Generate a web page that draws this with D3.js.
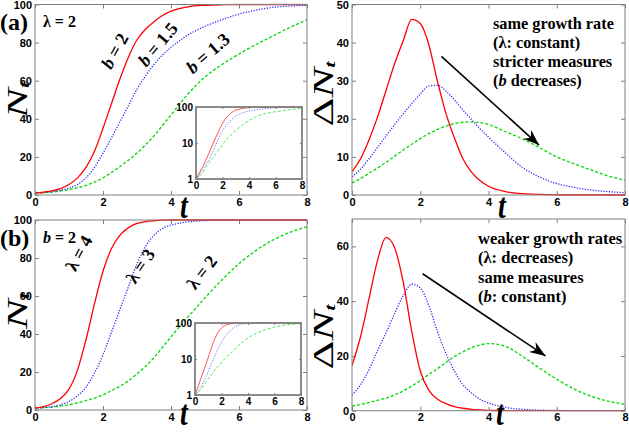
<!DOCTYPE html>
<html>
<head>
<meta charset="utf-8">
<script src="https://cdn.jsdelivr.net/npm/d3@7"></script>
<style>
  body { margin: 0; background: #fff; }
  svg { display: block; }
</style>
</head>
<body>
<div id="chart"></div>
<script>

// sample times (finer where the curves bend)
var tGrid = [0, 0.25, 0.5, 0.75, 1, 1.25, 1.5, 1.75, 2, 2.25, 2.5, 2.75, 3, 3.25, 3.5, 3.75, 4, 4.5, 5, 5.5, 6, 6.5, 7, 7.5, 8];
var xTicks = [0, 2, 4, 6, 8];

// (a) lambda = 2, N_t for b = 2, 1.5, 1.3
var nA_b2  = [1, 1.5, 2.2, 3.4, 5.5, 9, 14.5, 23, 35, 48, 61, 72.5, 81.5, 87, 91, 94.2, 96.5, 98.8, 99.6, 99.9, 100, 100, 100, 100, 100];
var nA_b15 = [1, 1.3, 1.8, 2.5, 3.6, 5.5, 9, 14.5, 22, 30, 38.5, 47, 55.5, 62.5, 68.5, 73.5, 77.5, 84, 88.5, 92, 95, 97, 98.5, 99.2, 99.6];
var nA_b13 = [1, 1.2, 1.5, 2.1, 2.8, 3.8, 5, 6.8, 9, 11.8, 15, 18.3, 22, 26.3, 31, 36.5, 42, 53, 62, 68.5, 74, 79, 83.5, 88, 92];

// (a) delta N_t
var dA_b2  = [6.1, 9.5, 14.5, 20.5, 27.5, 34.5, 40.5, 46.1, 45, 39.5, 30, 21.5, 15, 9.5, 6, 3.8, 2.3, 0.9, 0.35, 0.15, 0.05, 0, 0, 0, 0];
var dA_b15 = [4.8, 6.8, 9.5, 12.5, 15.5, 18.5, 21.3, 24, 26.5, 28.6, 28.8, 27.3, 25, 22.3, 19.8, 17.4, 15.2, 11, 7.2, 4.7, 3, 2, 1.3, 0.9, 0.6];
var dA_b13 = [3.2, 4.3, 5.7, 7.1, 8.6, 10.2, 11.8, 13.3, 14.8, 16.1, 17.2, 18.1, 18.7, 19.1, 19.2, 19.0, 18.5, 16.6, 14.7, 12.4, 10, 8.2, 6.6, 5, 3.9];

// (b) b = 2, N_t for lambda = 4, 3, 2
var nB_l4 = [1, 1.8, 3.3, 6, 11, 21, 37, 56, 73, 85, 92, 96, 98.2, 99.2, 99.6, 99.9, 100, 100, 100, 100, 100, 100, 100, 100, 100];
var nB_l3 = [1, 1.3, 1.8, 2.8, 4.5, 7.5, 12, 19.5, 29, 41, 53, 65, 77, 86, 92, 95.5, 97.3, 99, 99.7, 99.9, 100, 100, 100, 100, 100];
var nB_l2 = [1, 1.2, 1.5, 2.1, 2.8, 3.7, 5, 6.3, 8, 10.2, 12.5, 15.5, 19, 23, 27.5, 33, 38.5, 49, 59, 68.5, 77, 84, 89.5, 93.5, 96.5];

// (b) delta N_t
var dB_l4 = [16.5, 27, 41, 55, 63.3, 59.5, 47, 29, 14.5, 7.5, 4.3, 2.6, 1.5, 0.9, 0.5, 0.3, 0.15, 0.05, 0, 0, 0, 0, 0, 0, 0];
var dB_l3 = [5.7, 9.5, 15, 22, 28.5, 35.5, 42, 46.2, 44.8, 38.5, 29, 21, 14.5, 9.5, 6.5, 4.2, 2.8, 1.2, 0.5, 0.2, 0.1, 0, 0, 0, 0];
var dB_l2 = [1.7, 2.3, 3, 3.8, 4.6, 5.8, 7.2, 9, 11, 13.2, 15.3, 17.6, 19.8, 21.5, 23, 24, 24.5, 23.5, 19.8, 15.5, 11.5, 8, 5.3, 3.5, 2.3];

var W = 629, H = 433;
var svg = d3.select("#chart").append("svg")
    .attr("width", W)
    .attr("height", H);

var serif = "'Liberation Serif', 'Times New Roman', serif";
var sans = "'Liberation Sans', Arial, sans-serif";

var styles = {
  red:   { stroke: "#ff0000", dash: null,      w: 1.3 },
  blue:  { stroke: "#2a2aff", dash: "1.2,1.5", w: 1.3 },
  green: { stroke: "#00d800", dash: "3,2",     w: 1.3 }
};

var clipId = 0;

// draws a boxed axes (MATLAB style, ticks inside on all four sides) and its curves
function panel(box, y, yTicks, lines, opt) {
  opt = opt || {};
  var x = d3.scaleLinear().domain([0, 8]).range([box.l, box.r]);
  y.range([box.b, box.t]);
  var tick = opt.tick || 4;
  var fs = opt.fs || 11;
  var g = svg.append("g");

  g.append("rect")
      .attr("x", box.l).attr("y", box.t)
      .attr("width", box.r - box.l).attr("height", box.b - box.t)
      .attr("fill", "#fff");

  var axB = g.append("g").attr("transform", "translate(0," + box.b + ")")
      .call(d3.axisBottom(x).tickValues(xTicks).tickSize(-tick).tickSizeOuter(0).tickPadding(3));
  var axT = g.append("g").attr("transform", "translate(0," + box.t + ")")
      .call(d3.axisTop(x).tickValues(xTicks).tickSize(-tick).tickSizeOuter(0).tickFormat(""));
  var axL = g.append("g").attr("transform", "translate(" + box.l + ",0)")
      .call(d3.axisLeft(y).tickValues(yTicks).tickSize(-tick).tickSizeOuter(0).tickPadding(3)
        .tickFormat(opt.yFormat || d3.format("d")));
  var axR = g.append("g").attr("transform", "translate(" + box.r + ",0)")
      .call(d3.axisRight(y).tickValues(yTicks).tickSize(-tick).tickSizeOuter(0).tickFormat(""));

  [axB, axT, axL, axR].forEach(function(a) {
    a.select(".domain").remove();
    a.selectAll(".tick line").attr("stroke", "#808080");
    a.selectAll("text")
      .style("font-family", sans)
      .style("font-weight", "bold")
      .style("font-size", fs + "px")
      .attr("fill", "#000");
  });

  var id = "clip" + (clipId++);
  g.append("clipPath").attr("id", id).append("rect")
      .attr("x", box.l).attr("y", box.t - 1)
      .attr("width", box.r - box.l).attr("height", box.b - box.t + 2);

  var line = d3.line()
      .x(function(d) { return x(d[0]); })
      .y(function(d) { return y(d[1]); })
      .curve(d3.curveMonotoneX);

  lines.forEach(function(s) {
    var st = styles[s.style];
    g.append("path")
        .datum(tGrid.map(function(t, i) { return [t, s.values[i]]; }))
        .attr("clip-path", "url(#" + id + ")")
        .attr("fill", "none")
        .attr("stroke", st.stroke)
        .attr("stroke-width", opt.lw || st.w)
        .attr("stroke-opacity", opt.op || 1)
        .attr("stroke-dasharray", st.dash)
        .attr("d", line);
  });

  g.append("rect")
      .attr("x", box.l).attr("y", box.t)
      .attr("width", box.r - box.l).attr("height", box.b - box.t)
      .attr("fill", "none")
      .attr("stroke", "#808080")
      .attr("stroke-width", opt.frame || 1);

  return { x: x, y: y, g: g };
}

// ---- panels ----
var pA = panel({ l: 35, r: 307, t: 4.5, b: 195 }, d3.scaleLinear().domain([0, 100]), [0, 20, 40, 60, 80, 100],
  [{ style: "green", values: nA_b13 }, { style: "blue", values: nA_b15 }, { style: "red", values: nA_b2 }]);

panel({ l: 196, r: 302, t: 107, b: 179 }, d3.scaleLog().domain([1, 100]), [1, 10, 100],
  [{ style: "green", values: nA_b13 }, { style: "blue", values: nA_b15 }, { style: "red", values: nA_b2 }],
  { tick: 2, fs: 10, lw: 0.9, op: 0.75, frame: 1.8 });

var pB = panel({ l: 352, r: 625, t: 4.5, b: 195 }, d3.scaleLinear().domain([0, 50]), [0, 10, 20, 30, 40, 50],
  [{ style: "green", values: dA_b13 }, { style: "blue", values: dA_b15 }, { style: "red", values: dA_b2 }]);

var pC = panel({ l: 35, r: 307, t: 220, b: 410 }, d3.scaleLinear().domain([0, 100]), [0, 20, 40, 60, 80, 100],
  [{ style: "green", values: nB_l2 }, { style: "blue", values: nB_l3 }, { style: "red", values: nB_l4 }]);

panel({ l: 195, r: 301, t: 323, b: 395 }, d3.scaleLog().domain([1, 100]), [1, 10, 100],
  [{ style: "green", values: nB_l2 }, { style: "blue", values: nB_l3 }, { style: "red", values: nB_l4 }],
  { tick: 2, fs: 10, lw: 0.9, op: 0.75, frame: 1.8 });

var pD = panel({ l: 352, r: 625, t: 219, b: 410.7 }, d3.scaleLinear().domain([0, 70]), [0, 20, 40, 60],
  [{ style: "green", values: dB_l2 }, { style: "blue", values: dB_l3 }, { style: "red", values: dB_l4 }]);

// ---- axis labels ----
function yLabel(cx, cy, delta) {
  var tx = svg.append("text")
      .attr("transform", "translate(" + cx + "," + cy + ") rotate(-90) scale(1.5,1)")
      .attr("text-anchor", "middle")
      .style("font-family", serif)
      .style("font-size", "30px");
  if (delta) tx.append("tspan").text("\u0394");
  tx.append("tspan").style("font-style", "italic").text("N");
  tx.append("tspan").style("font-style", "italic").style("font-weight", "bold")
    .style("font-size", "15px").attr("dy", "2").text("t");
}
yLabel(26.5, 100, false);
yLabel(333, 94, true);
yLabel(26.5, 311, false);
yLabel(333, 337, true);

function xLabel(cx, by) {
  svg.append("text")
      .attr("transform", "translate(" + cx + "," + by + ") scale(1,1.25)")
      .attr("text-anchor", "middle")
      .style("font-family", serif)
      .style("font-style", "italic")
      .style("font-weight", "bold")
      .style("font-size", "28px")
      .text("t");
}
xLabel(184, 218);
xLabel(502, 218);
xLabel(184, 425);
xLabel(500, 425);

// ---- annotations ----
function boldText(x0, y0, size, parts, rot) {
  var tx = svg.append("text")
      .attr("transform", "translate(" + x0 + "," + y0 + ")" + (rot ? " rotate(" + rot + ")" : ""))
      .attr("text-anchor", rot ? "middle" : "start")
      .style("font-family", serif)
      .style("font-weight", "bold")
      .style("font-size", size + "px");
  parts.forEach(function(p) {
    tx.append("tspan").style("font-style", p[1] ? "italic" : "normal").text(p[0]);
  });
  return tx;
}

boldText(0, 30, 24, [["(a)"]]);
boldText(0, 246, 24, [["(b)"]]);
boldText(43, 26.5, 16, [["\u03bb = 2"]]);
boldText(43, 243, 16, [["b", 1], [" = 2"]]);

// curve labels
boldText(pA.x(2.5), pA.y(74), 18, [["b", 1], [" = 2"]], -61);
boldText(pA.x(3.75), pA.y(77), 18, [["b", 1], [" = 1.5"]], -50);
boldText(pA.x(5.2), pA.y(72), 18, [["b", 1], [" = 1.3"]], -41);
boldText(pC.x(1.45), pC.y(81), 18, [["\u03bb = 4"]], -62);
boldText(pC.x(3.25), pC.y(74), 18, [["\u03bb = 3"]], -56);
boldText(pC.x(5.05), pC.y(70.5), 18, [["\u03bb = 2"]], -52);

// text blocks
[[["same growth rate"]], [["(\u03bb: constant)"]], [["stricter measures"]], [["("], ["b", 1], [" decreases)"]]]
  .forEach(function(p, i) { boldText(493, 29 + i * 19, 16.3, p); });
[[["weaker growth rates"]], [["(\u03bb: decreases)"]], [["same measures"]], [["("], ["b", 1], [": constant)"]]]
  .forEach(function(p, i) { boldText(478, 244 + i * 19.3, 16.5, p); });

// arrows
svg.append("defs").append("marker")
    .attr("id", "head")
    .attr("markerUnits", "userSpaceOnUse")
    .attr("markerWidth", 18).attr("markerHeight", 12)
    .attr("refX", 16).attr("refY", 6)
    .attr("orient", "auto")
  .append("path")
    .attr("d", "M0,0 L16,6 L0,12 L5,6 Z")
    .attr("fill", "#000");

function arrow(p, t0, v0, t1, v1) {
  svg.append("line")
      .attr("x1", p.x(t0)).attr("y1", p.y(v0))
      .attr("x2", p.x(t1)).attr("y2", p.y(v1))
      .attr("stroke", "#000")
      .attr("stroke-width", 1.6)
      .attr("marker-end", "url(#head)");
}
arrow(pB, 2.62, 36.4, 5.48, 13.1);
arrow(pD, 2.07, 50, 5.67, 20);

</script>
</body>
</html>
